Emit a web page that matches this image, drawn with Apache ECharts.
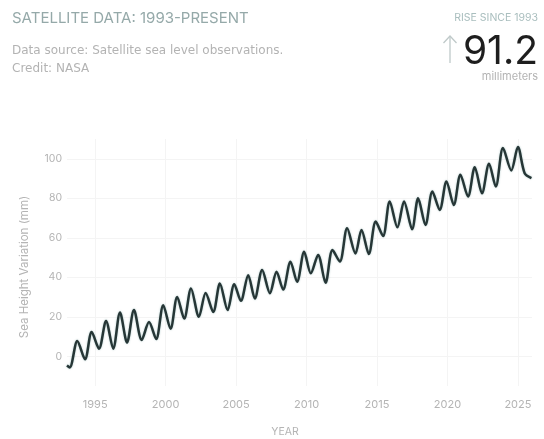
<!DOCTYPE html>
<html>
<head>
<meta charset="utf-8">
<script src="https://cdn.jsdelivr.net/npm/echarts@6/dist/echarts.min.js"></script>
<style>
html,body{margin:0;padding:0;background:#fff;}
#c{width:544px;height:439px;}
</style>
</head>
<body>
<div id="c"></div>
<script>
// Data (seasonal peaks and troughs)
const years = [1993.0,1993.2,1993.73,1994.28,1994.75,1995.27,1995.77,1996.28,1996.76,1997.26,1997.75,1998.3,1998.82,1999.33,1999.83,2000.35,2000.82,2001.32,2001.8,2002.36,2002.84,2003.38,2003.85,2004.4,2004.87,2005.34,2005.86,2006.33,2006.85,2007.4,2007.87,2008.34,2008.86,2009.33,2009.83,2010.3,2010.82,2011.35,2011.84,2012.36,2012.88,2013.47,2013.9,2014.42,2014.91,2015.43,2015.9,2016.45,2016.92,2017.49,2017.92,2018.44,2018.93,2019.45,2019.93,2020.45,2020.92,2021.46,2021.94,2022.45,2022.95,2023.43,2023.94,2024.53,2025.0,2025.48,2025.96];
const heights = [-4.6,-5.6,7.8,-1.5,12.3,3.9,17.9,3.9,22.2,7.0,23.5,8.3,17.4,8.8,25.9,14.0,30.1,19.1,34.4,20.0,32.1,22.5,36.9,23.4,36.5,28.1,41.1,29.3,43.7,32.0,42.8,33.8,47.9,37.7,52.9,42.0,51.3,37.2,53.8,48.0,64.8,52.1,64.0,51.8,68.2,60.9,78.4,65.3,78.4,64.3,80.0,66.5,83.4,74.1,88.5,76.6,91.9,80.9,95.7,82.5,97.5,85.9,105.4,94.1,105.9,92.7,90.2];
const xTicks = [1995,2000,2005,2010,2015,2020,2025];
const yTicks = [0,20,40,60,80,100];
const titleText = 'SATELLITE DATA: 1993-PRESENT';
const sourceText = 'Data source: Satellite sea level observations.';
const creditText = 'Credit: NASA';
const riseLabel = 'RISE SINCE 1993';
const riseValue = '91.2';
const riseUnit = 'millimeters';
const xName = 'YEAR';
const yName = 'Sea Height Variation (mm)';

const points = years.map((y, i) => [y, heights[i]]);
const FONT = 'Inter, "Noto Sans", sans-serif';
const arrowColor = '#bfc9c9';

const chart = echarts.init(document.getElementById('c'), null, {renderer: 'canvas'});
chart.setOption({
  animation: false,
  backgroundColor: '#ffffff',
  grid: {left: 67, right: 12, top: 139, bottom: 53},
  xAxis: {
    type: 'value',
    min: 1993,
    max: 2026,
    axisLine: {show: false},
    axisTick: {show: false, customValues: xTicks},
    axisLabel: {customValues: xTicks, color: '#b4b4b4', fontSize: 11, fontFamily: FONT, margin: 13, formatter: v => String(v)},
    splitLine: {show: true, lineStyle: {color: '#f4f4f4', width: 1}}
  },
  yAxis: {
    type: 'value',
    min: -15,
    max: 110,
    axisLine: {show: false},
    axisTick: {show: false, customValues: yTicks},
    axisLabel: {customValues: yTicks, color: '#b4b4b4', fontSize: 10.5, fontFamily: FONT, margin: 5},
    splitLine: {show: true, lineStyle: {color: '#f4f4f4', width: 1}}
  },
  series: [{
    type: 'line',
    data: points,
    showSymbol: false,
    smooth: 0.3,
    lineStyle: {color: '#263636', width: 2.5, shadowColor: 'rgba(70,130,130,0.45)', shadowBlur: 2}
  }],
  graphic: [
    {type: 'text', left: 12, top: 11, style: {text: titleText, fill: '#95a9a9', font: '15px ' + FONT}},
    {type: 'text', left: 12, top: 45, style: {text: sourceText, fill: '#b3b3b3', font: '12px "DejaVu Sans", sans-serif'}},
    {type: 'text', left: 12, top: 63, style: {text: creditText, fill: '#b3b3b3', font: '12px "DejaVu Sans", sans-serif'}},
    {type: 'text', right: 6, top: 12, style: {text: riseLabel, fill: '#a9bebe', font: '10.5px ' + FONT}},
    {type: 'text', right: 6, top: 33, style: {text: riseValue, fill: '#1e1e1e', font: '39px ' + FONT}},
    {type: 'line', shape: {x1: 450, y1: 36, x2: 450, y2: 63}, style: {stroke: arrowColor, lineWidth: 1.3}},
    {type: 'polyline', shape: {points: [[443.5, 43], [450, 36], [456.5, 43]]}, style: {stroke: arrowColor, lineWidth: 1.3, fill: null}},
    {type: 'text', right: 6, top: 71, style: {text: riseUnit, fill: '#b3b3b3', font: '11px ' + FONT}},
    {type: 'text', x: 285, y: 432, style: {text: xName, fill: '#b4b4b4', font: '10.5px ' + FONT, align: 'center', verticalAlign: 'middle'}},
    {type: 'text', x: 25, y: 267, rotation: Math.PI / 2, style: {text: yName, fill: '#b4b4b4', font: '11.5px ' + FONT, align: 'center', verticalAlign: 'middle'}}
  ]
});
</script>
</body>
</html>
